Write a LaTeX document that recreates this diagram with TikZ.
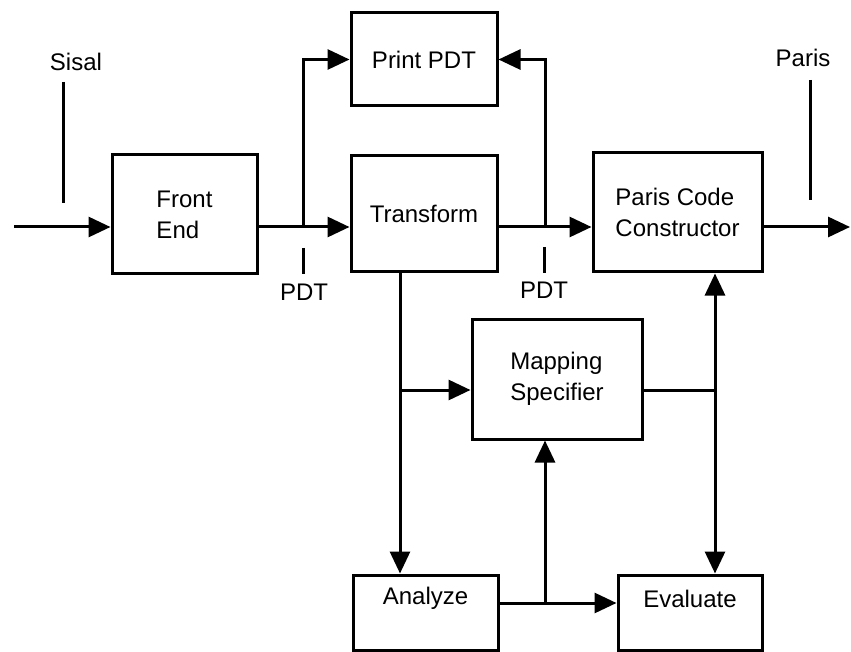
\documentclass[tikz,border=0pt]{standalone}
\usepackage{fontspec}
\setmainfont{Liberation Sans}
\usepackage{tikz}
\usetikzlibrary{arrows.meta}

\tikzset{
  block/.style={draw, line width=1.5pt, inner sep=0pt, align=left,
    font=\fontsize{12}{15.5}\selectfont},
  tag/.style={inner sep=0pt, font=\fontsize{12}{14}\selectfont},
  wire/.style={line width=1.5pt},
  flow/.style={wire, -{Triangle[length=11pt, width=10pt]}},
  twoway/.style={wire, {Triangle[length=11pt, width=10pt]}-{Triangle[length=11pt, width=10pt]}}
}

\begin{document}
\begin{tikzpicture}[x=0.5pt, y=-0.5pt]
  \useasboundingbox (0,0) rectangle (851,652);

  \node[block, minimum width=72.5pt, minimum height=59.5pt] (front) at (184.5,214.5) {Front\\End};
  \node[block, minimum width=73pt, minimum height=46.5pt] (print) at (424,59.5) {Print PDT};
  \node[block, minimum width=73pt, minimum height=58pt] (trans) at (424,214) {Transform};
  \node[block, minimum width=84.5pt, minimum height=59.5pt] (paris) at (677.5,212.5) {Paris Code\\Constructor};
  \node[block, minimum width=85pt, minimum height=60pt] (mapspec) at (557,379) {Mapping\\Specifier};
  \node[block, minimum width=72.5pt, minimum height=37.5pt] (analyze) at (425.5,612.5)
    {\raisebox{7pt}[\height][\depth]{Analyze}};
  \node[block, minimum width=72pt, minimum height=37.5pt] (evaluate) at (690,612.5)
    {\raisebox{7pt}[\height][\depth]{Evaluate}};

  \node[tag] (sisal) at (76,62) {Sisal};
  \node[tag] (parisout) at (803,58) {Paris};
  \node[tag] (pdtone) at (304,292) {PDT};
  \node[tag] (pdttwo) at (544,290) {PDT};

  \coordinate (source) at (14,227);
  \coordinate (sink) at (850,227);
  \coordinate (splitone) at (303,227);
  \coordinate (splittwo) at (545,227);
  \coordinate (splitdown) at (400,390);
  \coordinate (joinright) at (715,390);
  \coordinate (splitlow) at (545,603);

  \draw[flow] (source) -- (source -| front.west);
  \draw[flow] (source -| front.east) -- (source -| trans.west);
  \draw[flow] (splitone) |- (print.west);
  \draw[flow] (source -| trans.east) -- (source -| paris.west);
  \draw[flow] (splittwo) |- (print.east);
  \draw[flow] (source -| paris.east) -- (sink);
  \draw[flow] (trans.south -| splitdown) -- (analyze.north -| splitdown);
  \draw[flow] (splitdown) -- (splitdown -| mapspec.west);
  \draw[wire] (splitdown -| mapspec.east) -- (joinright);
  \draw[twoway] (paris.south -| joinright) -- (evaluate.north -| joinright);
  \draw[flow] (splitlow -| analyze.east) -- (splitlow -| evaluate.west);
  \draw[flow] (splitlow) -- (mapspec.south -| splitlow);

  \draw[wire] (63,82) -- (63,203);
  \draw[wire] (810,80) -- (810,200);
  \draw[wire] (303,248) -- (303,274);
  \draw[wire] (544,247) -- (544,273);
\end{tikzpicture}
\end{document}
